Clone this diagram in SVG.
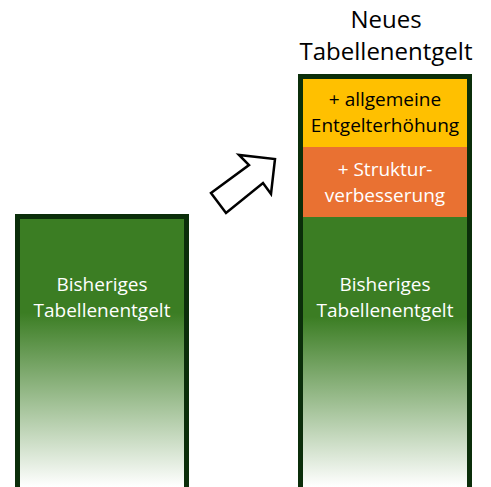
<svg xmlns="http://www.w3.org/2000/svg" width="491" height="487" viewBox="0 0 491 487">
<defs>
<linearGradient id="g1" x1="0" y1="219" x2="0" y2="487" gradientUnits="userSpaceOnUse">
<stop offset="0" stop-color="#3B7D23"/>
<stop offset="0.35" stop-color="#3B7D23"/>
<stop offset="1" stop-color="#FFFFFF"/>
</linearGradient>
<linearGradient id="g2" x1="0" y1="217" x2="0" y2="487" gradientUnits="userSpaceOnUse">
<stop offset="0" stop-color="#3B7D23"/>
<stop offset="0.37" stop-color="#3B7D23"/>
<stop offset="1" stop-color="#FFFFFF"/>
</linearGradient>
<style>
.t{font-family:"Open Sans","Liberation Sans",sans-serif;text-anchor:middle}
.w{fill:#FFFFFF;font-size:19px}
.k{fill:#000000;font-size:19px}
.frame{fill:none;stroke:#0B2E0A;stroke-width:5}
</style>
</defs>
<g id="bar-left">
<rect x="17.5" y="216.5" width="169" height="280" fill="url(#g1)"/>
<rect class="frame" x="17.5" y="216.5" width="169" height="280"/>
<text class="t w" x="102" y="291">Bisheriges</text>
<text class="t w" x="102" y="317">Tabellenentgelt</text>
</g>
<g id="bar-right">
<rect x="300.5" y="217" width="169" height="280" fill="url(#g2)"/>
<rect x="300.5" y="147" width="169" height="70" fill="#E97132"/>
<rect x="300.5" y="76.5" width="169" height="70.5" fill="#FFC000"/>
<rect class="frame" x="300.5" y="76.5" width="169" height="420"/>
<text class="t k" x="385" y="106">+ allgemeine</text>
<text class="t k" x="385" y="132">Entgelterhöhung</text>
<text class="t w" x="385" y="176">+ Struktur-</text>
<text class="t w" x="385" y="202">verbesserung</text>
<text class="t w" x="385" y="291">Bisheriges</text>
<text class="t w" x="385" y="317">Tabellenentgelt</text>
</g>
<g id="title">
<text class="t" x="386" y="28" font-size="24" fill="#000">Neues</text>
<text class="t" x="386" y="60" font-size="24" fill="#000">Tabellenentgelt</text>
</g>
<g id="connectors">
<polygon points="275,159 271,194 263,183 226,213 211,193 249,165 239,155" fill="#FFFFFF" stroke="#000" stroke-width="2.5" stroke-linejoin="miter"/>
</g>
</svg>
